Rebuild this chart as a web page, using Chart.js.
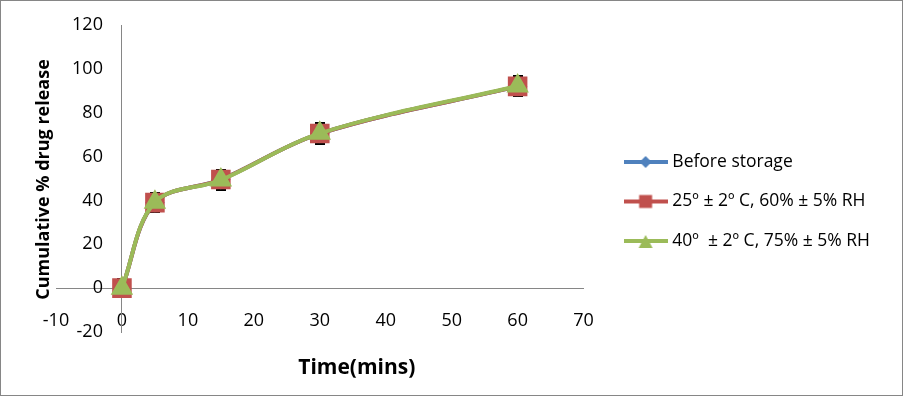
<!DOCTYPE html>
<html>
<head>
<meta charset="utf-8">
<script src="https://cdn.jsdelivr.net/npm/chart.js@4.4.1/dist/chart.umd.min.js"></script>
<style>
  body { margin: 0; background: #fff; }
  #wrap { width: 903px; height: 396px; border: 1px solid #868686; box-sizing: border-box; }
</style>
</head>
<body>
<div id="wrap"><canvas id="myChart" width="901" height="394"></canvas></div>
<script>
// time points (mins) and % released
const times = [0, 5, 15, 30, 60];
const beforeStorage = [0, 39, 49.5, 70.5, 92];
const storage25 = [0, 39, 49.5, 70.5, 92];
const storage40 = [0, 39.2, 49.3, 70.6, 92.2];
// SD for error bars
const errBefore = [4.1, 4.1, 4.35, 4.6, 4.4];
const err25 = [4.1, 4.1, 4.35, 4.6, 4.4];
const err40 = [4.1, 4.1, 4.35, 4.6, 4.4];
const seriesNames = ["Before storage", "25º ± 2º C, 60% ± 5% RH", "40º  ± 2º C, 75% ± 5% RH"];
const xTitle = "Time(mins)";
const yTitle = "Cumulative % drug release";

const blue = "#4F81BD";
const red = "#C0504D";
const green = "#9BBB59";
const axisGrey = "#868686";

Chart.defaults.font.family = "'Open Sans', sans-serif";
Chart.defaults.color = "#000";

function pts(ys) {
  return times.map((t, i) => ({ x: t, y: ys[i] }));
}

// little line+marker pictures for the legend
function legendIcon(color, shape) {
  const c = document.createElement("canvas");
  c.width = 44;
  c.height = 16;
  const g = c.getContext("2d");
  g.strokeStyle = color;
  g.lineWidth = 4;
  g.beginPath();
  g.moveTo(0, 8);
  g.lineTo(44, 8);
  g.stroke();
  g.fillStyle = color;
  g.beginPath();
  if (shape === "diamond") {
    g.moveTo(22, 2); g.lineTo(28, 8); g.lineTo(22, 14); g.lineTo(16, 8);
  } else if (shape === "square") {
    g.rect(15.5, 1.5, 13, 13);
  } else {
    g.moveTo(22, 2); g.lineTo(29, 15); g.lineTo(15, 15);
  }
  g.closePath();
  g.fill();
  return c;
}
const legendIcons = [legendIcon(blue, "diamond"), legendIcon(red, "square"), legendIcon(green, "triangle")];

const errorBars = {
  id: "errorBars",
  beforeDatasetsDraw(chart) {
    const ctx = chart.ctx;
    const xs = chart.scales.x;
    const ys = chart.scales.y;
    const errs = [errBefore, err25, err40];
    ctx.save();
    ctx.strokeStyle = "#000";
    ctx.lineWidth = 2;
    chart.data.datasets.forEach((ds, d) => {
      ds.data.forEach((p, i) => {
        const x = Math.round(xs.getPixelForValue(p.x));
        const top = Math.round(ys.getPixelForValue(p.y + errs[d][i]));
        const bot = Math.round(ys.getPixelForValue(p.y - errs[d][i]));
        ctx.beginPath();
        ctx.moveTo(x, top); ctx.lineTo(x, bot);
        ctx.moveTo(x - 5, top); ctx.lineTo(x + 5, top);
        ctx.moveTo(x - 5, bot); ctx.lineTo(x + 5, bot);
        ctx.stroke();
      });
    });
    ctx.restore();
  },
};

const axisTitles = {
  id: "axisTitles",
  afterDraw(chart) {
    const ctx = chart.ctx;
    const a = chart.chartArea;
    ctx.save();
    ctx.fillStyle = "#000";
    ctx.textAlign = "center";
    ctx.textBaseline = "middle";
    ctx.font = "bold 21px 'Open Sans'";
    ctx.fillText(xTitle, (a.left + a.right) / 2 + 37, a.bottom + 36);
    ctx.font = "bold 18px 'Open Sans'";
    ctx.translate(a.left - 12, (a.top + a.bottom) / 2 + 1);
    ctx.rotate(-Math.PI / 2);
    ctx.fillText(yTitle, 0, 0);
    ctx.restore();
  },
};

const data = {
  datasets: [
    {
      label: seriesNames[0],
      data: pts(beforeStorage),
      borderColor: blue,
      backgroundColor: blue,
      pointStyle: "rectRot",
      pointRadius: 7,
      borderWidth: 4,
      tension: 0.35,
      order: 2,
    },
    {
      label: seriesNames[1],
      data: pts(storage25),
      borderColor: red,
      backgroundColor: red,
      pointStyle: "rect",
      pointRadius: 11,
      borderWidth: 4,
      tension: 0.35,
      order: 1,
    },
    {
      label: seriesNames[2],
      data: pts(storage40),
      borderColor: green,
      backgroundColor: green,
      pointStyle: "triangle",
      pointRadius: 9,
      borderWidth: 4,
      tension: 0.35,
      order: 0,
    },
  ],
};

// empty scales that only hold space in the layout
const spacer = {
  display: true,
  ticks: { display: false },
  grid: { display: false, drawTicks: false },
  border: { display: false },
};

const config = {
  type: "scatter",
  data: data,
  options: {
    responsive: false,
    animation: false,
    showLine: true,
    layout: { padding: { top: 24, left: 55, right: 22, bottom: 17 } },
    scales: {
      x: {
        type: "linear",
        min: -10,
        max: 70,
        position: { y: 0 },
        ticks: { stepSize: 10, padding: 22, font: { size: 18 }, color: "#000" },
        grid: { display: false, drawTicks: false },
        border: { color: axisGrey, width: 1 },
      },
      // value labels, right aligned a little left of the axis line
      y: {
        type: "linear",
        min: -20,
        max: 120,
        position: { x: -2.88 },
        ticks: { stepSize: 20, font: { size: 18 }, color: "#000" },
        grid: { display: false, drawTicks: false },
        border: { display: false },
      },
      // the value axis line, crossing at x = 0
      yLine: {
        type: "linear",
        axis: "y",
        min: -20,
        max: 120,
        position: { x: 0 },
        ticks: { display: false },
        grid: { display: false, drawTicks: false },
        border: { color: axisGrey, width: 1 },
      },
      gapRight: { ...spacer, type: "linear", axis: "y", position: "right", afterFit: (s) => { s.width = 22; } },
      gapBottom: { ...spacer, type: "linear", axis: "x", position: "bottom", afterFit: (s) => { s.height = 46; } },
    },
    plugins: {
      tooltip: { enabled: false },
      legend: {
        position: "right",
        align: "center",
        maxWidth: 320,
        labels: {
          usePointStyle: true,
          pointStyleWidth: 36,
          padding: 22,
          color: "#000",
          font: { size: 17.5 },
          sort: (a, b) => a.datasetIndex - b.datasetIndex,
          generateLabels: (chart) =>
            Chart.defaults.plugins.legend.labels.generateLabels(chart).map((l) => {
              l.pointStyle = legendIcons[l.datasetIndex];
              return l;
            }),
        },
      },
    },
  },
  plugins: [errorBars, axisTitles],
};

const myChart = new Chart(document.getElementById("myChart"), config);
</script>
</body>
</html>
